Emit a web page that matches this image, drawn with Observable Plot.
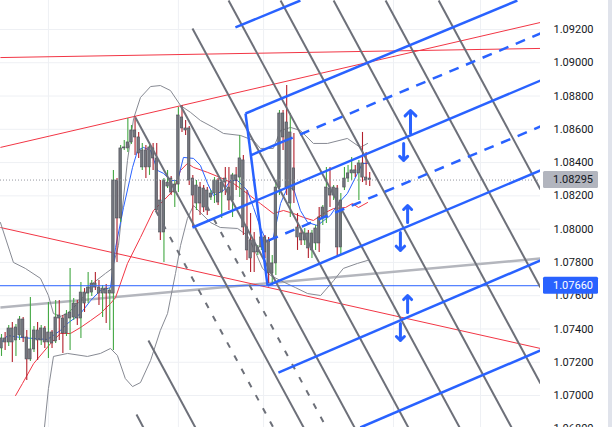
<!DOCTYPE html>
<html><head><meta charset="utf-8">
<script src="https://cdn.jsdelivr.net/npm/d3@7"></script>
<script src="https://cdn.jsdelivr.net/npm/@observablehq/plot@0.6"></script>
<style>
html,body{margin:0;padding:0;background:#fff;overflow:hidden;}
#chart{position:relative;width:612px;height:427px;}
#sep{position:absolute;left:608px;top:0;width:4px;height:427px;background:#e0e3eb;}
</style></head><body>
<div id="chart"><div id="sep"></div></div>
<script>
// ---- candles (bar index = position in arrays) ----
const opens = [1.07283,1.07343,1.07319,1.07403,1.07331,1.07361,1.07457,1.07349,1.07217,1.07277,
1.07391,1.07331,1.07403,1.07319,1.07379,1.07325,1.07481,1.07463,1.07373,1.07463,
1.07469,1.07553,1.07463,1.07619,1.07613,1.07619,1.07673,1.07649,1.07613,1.07643,
1.07613,1.07613,1.08292,1.08064,1.08485,1.08485,1.08521,1.08593,1.08551,1.08371,
1.08473,1.08371,1.08485,1.08425,1.08172,1.07980,1.08256,1.08304,1.08220,1.08268,
1.08671,1.08605,1.08605,1.08304,1.08154,1.08250,1.08244,1.08232,1.08190,1.08214,
1.08292,1.08220,1.08304,1.08250,1.08172,1.08323,1.08310,1.08413,1.08010,1.07932,
1.07932,1.07860,1.07890,1.07950,1.07932,1.07734,1.07794,1.08250,1.08695,1.08641,
1.08154,1.08365,1.08010,1.07974,1.07932,1.07974,1.07872,1.07914,1.08070,1.08070,
1.08070,1.08244,1.08202,1.08244,1.07890,1.08250,1.08304,1.08335,1.08353,1.08335,
1.08395,1.08310,1.08304];
const highs = [1.07367,1.07379,1.07421,1.07439,1.07427,1.07475,1.07469,1.07391,1.07589,1.07415,
1.07439,1.07421,1.07415,1.07559,1.07391,1.07571,1.07571,1.07481,1.07511,1.07764,
1.07583,1.07571,1.07679,1.07643,1.07740,1.07691,1.07740,1.07691,1.07661,1.07667,
1.07643,1.08353,1.08304,1.08503,1.08533,1.08665,1.08623,1.08677,1.08581,1.08515,
1.08503,1.08515,1.08515,1.08515,1.08292,1.08304,1.08353,1.08316,1.08292,1.08731,
1.08743,1.08653,1.08617,1.08323,1.08292,1.08280,1.08262,1.08250,1.08232,1.08310,
1.08304,1.08292,1.08371,1.08371,1.08335,1.08371,1.08563,1.08443,1.08232,1.08094,
1.07980,1.07902,1.07974,1.07962,1.07950,1.07842,1.08292,1.08713,1.08713,1.08863,
1.08695,1.08575,1.08094,1.07992,1.08004,1.07992,1.07992,1.08022,1.08130,1.08142,
1.08371,1.08371,1.08262,1.08262,1.08214,1.08371,1.08383,1.08431,1.08383,1.08413,
1.08581,1.08461,1.08341];
const lows = [1.07235,1.07271,1.07295,1.07199,1.07235,1.07331,1.07319,1.07090,1.07205,1.07259,
1.07211,1.07301,1.07283,1.07223,1.07283,1.07313,1.07331,1.07253,1.07355,1.07271,
1.07451,1.07421,1.07343,1.07499,1.07553,1.07595,1.07631,1.07541,1.07469,1.07433,
1.07391,1.07271,1.07800,1.08040,1.08473,1.08461,1.08509,1.08443,1.08425,1.08353,
1.08304,1.08323,1.08353,1.08094,1.07932,1.07800,1.08244,1.08202,1.08130,1.08220,
1.08581,1.08563,1.08262,1.08010,1.08112,1.08082,1.08100,1.08082,1.08172,1.08154,
1.08142,1.08064,1.08202,1.08112,1.08070,1.08232,1.08190,1.07962,1.07812,1.07740,
1.07740,1.07842,1.07872,1.07824,1.07673,1.07661,1.07722,1.08202,1.08473,1.08202,
1.08070,1.08154,1.07872,1.07902,1.07902,1.07824,1.07824,1.07872,1.07860,1.08022,
1.08034,1.08130,1.08172,1.07830,1.07842,1.08232,1.08280,1.08292,1.08310,1.08172,
1.08280,1.08262,1.08256];
const closes = [1.07343,1.07319,1.07403,1.07319,1.07409,1.07457,1.07349,1.07217,1.07277,1.07391,
1.07331,1.07403,1.07319,1.07379,1.07313,1.07469,1.07463,1.07373,1.07487,1.07499,
1.07553,1.07463,1.07619,1.07553,1.07649,1.07673,1.07649,1.07613,1.07643,1.07613,
1.07631,1.08292,1.08064,1.08485,1.08491,1.08521,1.08593,1.08551,1.08455,1.08473,
1.08371,1.08491,1.08425,1.08112,1.07980,1.08292,1.08280,1.08220,1.08268,1.08683,
1.08605,1.08593,1.08292,1.08202,1.08262,1.08154,1.08130,1.08112,1.08214,1.08292,
1.08160,1.08280,1.08280,1.08172,1.08323,1.08292,1.08425,1.08010,1.07872,1.07824,
1.07860,1.07890,1.07950,1.07860,1.07734,1.07794,1.08250,1.08695,1.08551,1.08250,
1.08581,1.08232,1.07950,1.07932,1.07974,1.07884,1.07974,1.08004,1.07914,1.08130,
1.08250,1.08202,1.08250,1.07890,1.08172,1.08304,1.08335,1.08353,1.08335,1.08395,
1.08310,1.08292,1.08295];

// ---- indicators: [bar, price] ----
const maFast = [[-0.3,1.07313],[1.7,1.07361],[5.3,1.07349],[8.9,1.07343],[12.7,1.07337],[16.3,1.07391],[18.3,1.07433],[21.9,1.07493],[24.7,1.07571],[27.4,1.07631],[30.2,1.07649],[31.6,1.07890],[33.8,1.08130],[36.3,1.08371],[37.7,1.08473],[39.3,1.08491],[41.3,1.08473],[43.2,1.08353],[44.9,1.08335],[46.8,1.08292],[48.8,1.08292],[50.4,1.08431],[53.2,1.08425],[55.1,1.08383],[57.1,1.08274],[58.7,1.08202],[61.5,1.08232],[63.4,1.08292],[65.4,1.08292],[68.1,1.08232],[69.8,1.08130],[71.7,1.08010],[73.7,1.07914],[75.3,1.07950],[77.3,1.08154],[79.2,1.08250],[80.9,1.08244],[82.8,1.08112],[84.8,1.08040],[87.5,1.08022],[91.1,1.08082],[93.3,1.08154],[95.8,1.08214],[98.6,1.08335],[100.0,1.08395],[101.4,1.08395]];
const maSlow = [[3.9,1.07000],[5.8,1.07072],[8.9,1.07192],[13.6,1.07313],[16.3,1.07373],[19.1,1.07373],[21.9,1.07409],[24.7,1.07451],[27.4,1.07493],[30.2,1.07553],[31.6,1.07589],[34.9,1.07794],[38.5,1.07950],[42.1,1.08112],[44.9,1.08172],[47.6,1.08232],[49.6,1.08353],[51.5,1.08395],[53.2,1.08371],[57.1,1.08341],[60.6,1.08310],[64.3,1.08274],[68.1,1.08214],[71.7,1.08154],[75.3,1.08094],[78.1,1.08112],[80.9,1.08094],[83.7,1.08070],[86.4,1.08052],[89.2,1.08094],[92.0,1.08124],[95.3,1.08130],[97.2,1.08154],[98.9,1.08130],[101.4,1.08160]];
const bandUpper = [[-0.3,1.08040],[3.3,1.07800],[6.6,1.07764],[10.8,1.07704],[13.0,1.07601],[14.4,1.07493],[16.3,1.07475],[18.6,1.07499],[21.9,1.07571],[25.2,1.07673],[28.8,1.07734],[30.7,1.07764],[32.4,1.07902],[34.9,1.08413],[36.6,1.08665],[38.5,1.08791],[41.3,1.08857],[44.0,1.08863],[46.8,1.08833],[49.6,1.08743],[52.4,1.08701],[55.1,1.08653],[58.7,1.08611],[61.5,1.08575],[66.2,1.08563],[69.8,1.08533],[71.7,1.08485],[75.3,1.08485],[77.3,1.08593],[80.1,1.08611],[82.8,1.08593],[86.4,1.08515],[90.3,1.08515],[95.8,1.08545],[99.4,1.08491],[101.4,1.08515]];
const bandLower = [[11.9,1.06808],[13.0,1.07042],[14.4,1.07235],[18.3,1.07253],[23.8,1.07235],[27.4,1.07253],[30.2,1.07283],[32.1,1.07241],[34.3,1.07102],[36.3,1.07054],[38.5,1.07078],[41.3,1.07211],[44.0,1.07391],[46.0,1.07493],[48.2,1.07734],[49.6,1.07902],[51.5,1.08064],[53.2,1.08142],[55.1,1.08100],[57.9,1.08040],[60.6,1.08010],[65.4,1.08004],[68.1,1.07962],[70.4,1.07860],[72.3,1.07764],[74.5,1.07722],[77.3,1.07691],[81.4,1.07649],[84.8,1.07613],[88.4,1.07601],[92.0,1.07691],[94.7,1.07764],[98.6,1.07794],[101.4,1.07812]];

// ---- drawings: [bar1, price1, bar2, price2] ----
const redTrend = [[-0.3,1.08491,149.3,1.09242],[-0.3,1.09031,149.3,1.09086],[-0.3,1.08010,149.3,1.07283]];
const greyTrend = [[-0.3,1.07529,149.3,1.07824]];
const fanSolid = [[37.4,1.06886,39.3,1.06808],[40.7,1.07331,53.7,1.06808],[37.1,1.08671,83.7,1.06808],[49.6,1.08743,97.8,1.06808],[52.9,1.09206,112.7,1.06808],[62.9,1.09374,126.9,1.06808],[77.3,1.09374,141.3,1.06808],[92.0,1.09374,149.3,1.07072],[106.4,1.09374,149.3,1.07649],[121.1,1.09374,149.3,1.08238]];
const fanDashed = [[42.7,1.08112,75.3,1.06808],[56.8,1.08142,90.0,1.06808]];
const channelSolid = [[64.8,1.09212,82.8,1.09374],[67.6,1.08695,142.9,1.09374],[67.6,1.08695,73.7,1.07661],[69.0,1.08443,78.1,1.08527],[52.9,1.08010,149.3,1.08893],[73.7,1.07661,149.3,1.08353],[76.7,1.07138,149.3,1.07812],[99.4,1.06808,149.3,1.07271]];
const channelDashed = [[78.1,1.08527,149.3,1.09176],[74.0,1.07932,149.3,1.08617]];
const arrows = [[113.3,1.08575,113.3,1.08713],[111.4,1.08515,111.4,1.08413],[112.5,1.08040,112.5,1.08142],[110.5,1.07980,110.5,1.07872],[112.5,1.07499,112.5,1.07601],[110.5,1.07433,110.5,1.07331]];
const markedLevel = 1.07660;
const lastPrice = 1.08295;
const priceTicks = [1.068,1.070,1.072,1.074,1.076,1.078,1.080,1.082,1.084,1.086,1.088,1.090,1.092];
const sessionBreaks = [13.0,49.0,72.6,108.6,132.7];

const candles = opens.map((o,i)=>({i,o,h:highs[i],l:lows[i],c:closes[i],up:closes[i]>=o}));
const xMin = -0.277, xMax = 149.31;
const seg = {x1:d=>d[0],y1:d=>d[1],x2:d=>d[2],y2:d=>d[3],clip:true};

const plot = Plot.plot({
  width:612, height:427,
  marginLeft:0, marginRight:72, marginTop:0, marginBottom:0,
  x:{domain:[xMin,xMax], axis:null},
  y:{domain:[1.06808,1.09374], axis:null},
  style:{background:"#fff", fontFamily:"Roboto, 'Liberation Sans', sans-serif", fontSize:"11px", color:"#131722", overflow:"visible"},
  marks:[
    Plot.gridY(priceTicks,{stroke:"#eef0f4",strokeOpacity:1}),
    Plot.gridX(sessionBreaks,{stroke:"#eef0f4",strokeOpacity:1}),
    Plot.link(greyTrend,{...seg,stroke:"#b4b6bd",strokeWidth:2.5}),
    Plot.link(redTrend,{...seg,stroke:"#f23645",strokeWidth:1}),
    Plot.line(bandUpper,{x:d=>d[0],y:d=>d[1],stroke:"#878a93",strokeWidth:1,clip:true}),
    Plot.line(bandLower,{x:d=>d[0],y:d=>d[1],stroke:"#878a93",strokeWidth:1,clip:true}),
    Plot.line(maSlow,{x:d=>d[0],y:d=>d[1],stroke:"#f23645",strokeWidth:1,clip:true}),
    Plot.line(maFast,{x:d=>d[0],y:d=>d[1],stroke:"#2962ff",strokeWidth:1,clip:true}),
    Plot.ruleX(candles,{x:"i",y1:"l",y2:"h",stroke:d=>d.up?"#43a843":"#b2202c",strokeWidth:1.1}),
    Plot.rect(candles,{x1:d=>d.i-0.34,x2:d=>d.i+0.34,y1:"o",y2:"c",fill:"#73767e",stroke:"#4b4e56",strokeWidth:0.6}),
    Plot.ruleY([lastPrice],{stroke:"#9598a1",strokeDasharray:"1,2",strokeWidth:1}),
    Plot.ruleY([markedLevel],{stroke:"#2962ff",strokeWidth:1}),
    Plot.link(fanSolid,{...seg,stroke:"#6d7079",strokeWidth:2}),
    Plot.link(fanDashed,{...seg,stroke:"#6d7079",strokeWidth:2,strokeDasharray:"6,9"}),
    Plot.link(channelSolid,{...seg,stroke:"#2962ff",strokeWidth:2.5}),
    Plot.link(channelDashed,{...seg,stroke:"#2962ff",strokeWidth:2.5,strokeDasharray:"10,8"}),
    Plot.arrow(arrows,{...seg,stroke:"#2962ff",strokeWidth:3,headLength:9,headAngle:90}),
    Plot.axisY(priceTicks,{anchor:"right",tickSize:0,tickPadding:13,tickFormat:d=>d.toFixed(5),fill:"#131722",fontSize:11})
  ]
});

const ys = plot.scale("y"), xs = plot.scale("x");
const svg = d3.select(plot);
const x0 = xs.apply(xMax) + 3;
[[lastPrice,"#b2b5be","#131722"],[markedLevel,"#2962ff","#ffffff"]].forEach(([p,bg,fg])=>{
  const yy = ys.apply(p);
  const g = svg.append("g").attr("text-anchor","start");
  g.append("rect").attr("x",x0).attr("y",yy-8.5).attr("width",55).attr("height",17).attr("rx",1.5).attr("fill",bg);
  g.append("text").attr("x",x0+10).attr("y",yy).attr("dy","0.35em").attr("text-anchor","start").attr("font-size",11).attr("fill",fg).text(p.toFixed(5));
});
document.getElementById("chart").prepend(plot);
</script>
</body></html>
